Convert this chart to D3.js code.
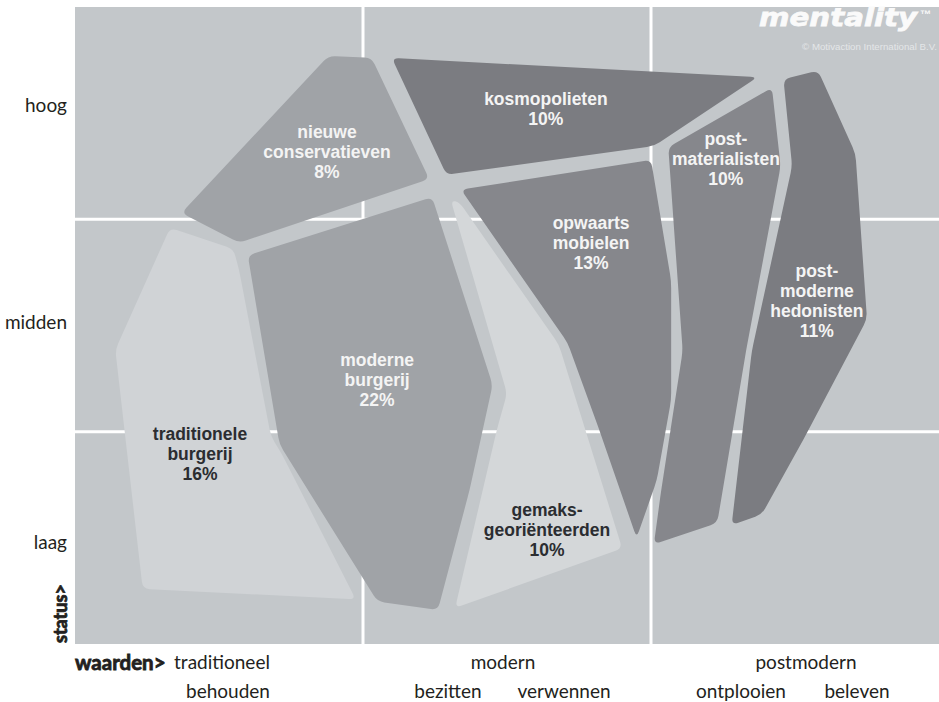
<!DOCTYPE html>
<html>
<head>
<meta charset="utf-8">
<script src="https://cdn.jsdelivr.net/npm/d3@7"></script>
<style>
  body { margin: 0; background: #fff; }
  svg { display: block; }
</style>
</head>
<body>
<div id="chart"></div>
<script>
// values axis (x) and status axis (y), both in units of 0..300 (100 per band)
const values = ["traditioneel", "modern", "postmodern"];
const valueSubs = [["behouden"], ["bezitten", "verwennen"], ["ontplooien", "beleven"]];
const statusLevels = ["laag", "midden", "hoog"];

const segments = [
  ["nieuwe", "conservatieven"],
  ["kosmopolieten"],
  ["opwaarts", "mobielen"],
  ["post-", "materialisten"],
  ["post-", "moderne", "hedonisten"],
  ["moderne", "burgerij"],
  ["traditionele", "burgerij"],
  ["gemaks-", "georiënteerden"]
];
const shares = [8, 10, 13, 10, 11, 22, 16, 10];

// outline of each segment on the values/status plane
const shapes = [
  [[88, 277], [103, 276], [123, 219], [57, 189], [37, 203]],
  [[110, 276], [237, 267], [201, 234.5], [129, 221]],
  [[134, 214], [200, 228], [207, 171], [207, 115], [202, 77], [195, 50], [182, 101], [171, 142]],
  [[206, 234], [242, 262], [245, 225], [233, 138], [223, 57], [201, 47], [203.5, 72], [211, 138]],
  [[246, 266], [258, 270], [271, 231], [275, 153], [254, 99], [238.5, 61], [228, 56], [235, 138], [249, 225]],
  [[60, 183], [124, 210.5], [145, 122], [137, 72.5], [126, 16], [105, 20], [71, 94]],
  [[33, 196], [55, 186], [57, 176], [68, 98], [72, 89], [97.5, 21], [23.5, 26], [14, 138.5]],
  [[130.5, 209], [133.5, 208], [168, 141], [190, 45], [132, 17], [146.5, 101], [150, 118]]
];

// ---- layout ----
const width = 939, height = 702;
const labelAt = [[87.5, 231.7], [163.5, 252], [179.2, 188.9], [226, 228.4],
                 [257.6, 161.5], [104.9, 124.3], [43.4, 89.5], [163.9, 53.7]];
const fills = ["#a0a3a7", "#7b7c81", "#86878c", "#86878c", "#7b7c81", "#a0a3a7", "#d0d3d6", "#d4d7d9"];
const darkText = [false, false, false, false, false, false, true, true];

const x = d3.scaleLinear().domain([0, 300]).range([75, 939]);
const y = d3.scaleLinear().domain([0, 300]).range([644, 7]);

const svg = d3.select("#chart").append("svg")
    .attr("width", width)
    .attr("height", height);

svg.append("rect")
    .attr("x", x(0)).attr("y", y(300))
    .attr("width", x(300) - x(0)).attr("height", y(0) - y(300))
    .attr("fill", "#c3c7ca");

// white grid between the bands
const grid = svg.append("g").attr("stroke", "#fff").attr("stroke-width", 3);
grid.selectAll(".vx").data([100, 200]).enter().append("line")
    .attr("x1", d => x(d)).attr("x2", d => x(d))
    .attr("y1", y(300)).attr("y2", y(0));
grid.selectAll(".hy").data([100, 200]).enter().append("line")
    .attr("y1", d => y(d)).attr("y2", d => y(d))
    .attr("x1", x(0)).attr("x2", x(300));

function rounded(pts, r) {
  const p = d3.path(), n = pts.length;
  pts.forEach((c, i) => {
    const a = pts[(i - 1 + n) % n], b = pts[(i + 1) % n];
    const la = Math.hypot(a[0] - c[0], a[1] - c[1]), lb = Math.hypot(b[0] - c[0], b[1] - c[1]);
    const ra = Math.min(r, la / 2), rb = Math.min(r, lb / 2);
    const s = [c[0] + (a[0] - c[0]) * ra / la, c[1] + (a[1] - c[1]) * ra / la];
    const e = [c[0] + (b[0] - c[0]) * rb / lb, c[1] + (b[1] - c[1]) * rb / lb];
    if (i === 0) p.moveTo(s[0], s[1]); else p.lineTo(s[0], s[1]);
    p.quadraticCurveTo(c[0], c[1], e[0], e[1]);
  });
  p.closePath();
  return p.toString();
}

svg.append("g").selectAll("path")
  .data(shapes)
  .enter().append("path")
    .attr("d", d => rounded(d.map(v => [x(v[0]), y(v[1])]), 7))
    .attr("fill", (d, i) => fills[i]);

// segment labels
const lab = svg.append("g")
    .attr("font-family", "'Liberation Sans', Arial, sans-serif")
    .attr("font-weight", "bold")
    .attr("font-size", 17.5)
    .attr("text-anchor", "middle");

segments.forEach((lines, i) => {
  const all = lines.concat([shares[i] + "%"]);
  const cx = x(labelAt[i][0]), cy = y(labelAt[i][1]);
  const t = lab.append("text").attr("fill", darkText[i] ? "#2b2d31" : "#f4f4f4");
  all.forEach((s, k) => {
    t.append("tspan")
      .attr("x", cx)
      .attr("y", cy + (k - (all.length - 1) / 2) * 20 + 6)
      .text(s);
  });
});

// brand
svg.append("text")
    .attr("x", 759).attr("y", 26)
    .attr("font-family", "'DejaVu Sans', sans-serif")
    .attr("font-weight", "bold").attr("font-style", "italic")
    .attr("font-size", 25)
    .attr("textLength", 158).attr("lengthAdjust", "spacingAndGlyphs")
    .attr("fill", "#fafafa")
    .attr("stroke", "#fafafa").attr("stroke-width", 0.8)
    .text("mentality");
svg.append("text")
    .attr("x", 920).attr("y", 18)
    .attr("font-family", "'Liberation Sans', Arial, sans-serif")
    .attr("font-weight", "bold").attr("font-size", 11)
    .attr("fill", "#fafafa")
    .text("™");
svg.append("text")
    .attr("x", 937).attr("y", 50)
    .attr("text-anchor", "end")
    .attr("font-family", "'Liberation Sans', Arial, sans-serif")
    .attr("font-size", 9.7)
    .attr("fill", "#e4e6e8")
    .text("© Motivaction International B.V.");

// status axis
const statusNudge = [11, 3, -1];
svg.append("g").selectAll("text")
  .data(statusLevels)
  .enter().append("text")
    .attr("x", 67)
    .attr("y", (d, i) => y(i * 100 + 50) + statusNudge[i])
    .attr("text-anchor", "end")
    .attr("font-family", "Lato, sans-serif")
    .attr("font-size", 19)
    .attr("fill", "#231f20")
    .text(d => d);

svg.append("text")
    .attr("transform", "translate(67," + 643 + ") rotate(-90)")
    .attr("font-family", "Lato, sans-serif")
    .attr("font-weight", "bold")
    .attr("font-size", 18)
    .attr("fill", "#231f20")
    .attr("stroke", "#231f20").attr("stroke-width", 0.8)
    .text("status>");

// values axis
svg.append("text")
    .attr("x", 75).attr("y", 670)
    .attr("font-family", "Lato, sans-serif")
    .attr("font-weight", "bold")
    .attr("font-size", 20.5)
    .attr("fill", "#231f20")
    .attr("stroke", "#231f20").attr("stroke-width", 0.8)
    .text("waarden>");

const valueNudge = [3, -4, 11];
const subNudge = [9, -1, 4];
const axis = svg.append("g")
    .attr("font-family", "Lato, sans-serif")
    .attr("font-size", 19)
    .attr("fill", "#231f20")
    .attr("text-anchor", "middle");
values.forEach((v, i) => {
  const cx = (x(i * 100) + x(i * 100 + 100)) / 2;
  axis.append("text").attr("x", cx + valueNudge[i]).attr("y", 669).text(v);
  const subs = valueSubs[i];
  subs.forEach((s, k) => {
    const off = subs.length === 1 ? 0 : (k === 0 ? -58 : 58);
    axis.append("text").attr("x", cx + subNudge[i] + off).attr("y", 698).text(s);
  });
});
</script>
</body>
</html>
